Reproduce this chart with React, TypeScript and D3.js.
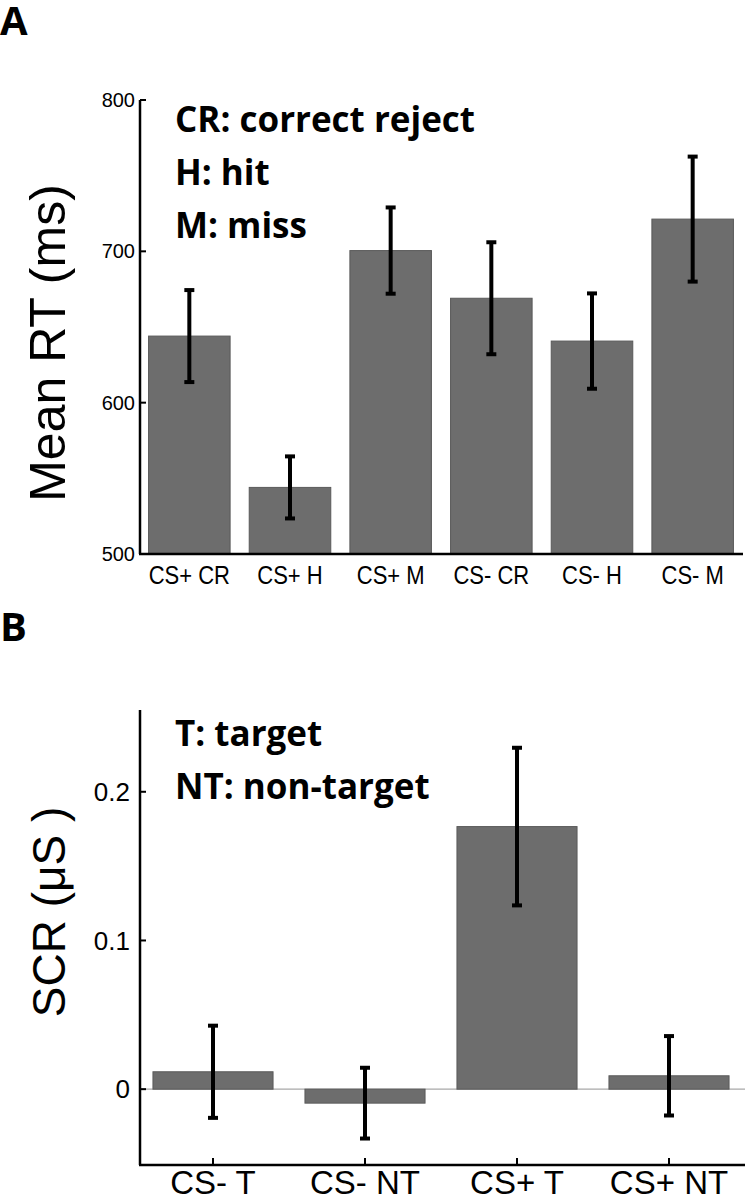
import React from "react";
import * as d3 from "d3";

const catsA = ["CS+ CR", "CS+ H", "CS+ M", "CS- CR", "CS- H", "CS- M"];
const meanA = [644, 544, 700.5, 669, 640.7, 721.3];
const errA = [30.4, 20.5, 28.5, 37, 31.5, 41.3];
const ticksA = [500, 600, 700, 800];
const notesA = ["CR: correct reject", "H: hit", "M: miss"];

const catsB = ["CS- T", "CS- NT", "CS+ T", "CS+ NT"];
const meanB = [0.0117, -0.0094, 0.1766, 0.009];
const errB = [0.031, 0.0238, 0.053, 0.0267];
const ticksB = [0, 0.1, 0.2];
const tickLabelsB = ["0", "0.1", "0.2"];
const notesB = ["T: target", "NT: non-target"];

const BAR = "#6d6d6d";
const SANS = "'Liberation Sans', Arial, sans-serif";
const NOTE = "'Open Sans', sans-serif";

function ErrorBar({ x, y1, y2 }: { x: number; y1: number; y2: number }) {
  return (
    <g stroke="#000">
      <line x1={x} x2={x} y1={y1} y2={y2} strokeWidth={4} />
      <line x1={x - 5} x2={x + 5} y1={y1} y2={y1} strokeWidth={4} />
      <line x1={x - 5} x2={x + 5} y1={y2} y2={y2} strokeWidth={4} />
    </g>
  );
}

export default function App() {
  const xA = d3.scaleBand<string>().domain(catsA).range([139, 743]).paddingInner(0.19).paddingOuter(0.095);
  const yA = d3.scaleLinear().domain([500, 800]).range([554, 100]);
  const xB = d3.scaleBand<string>().domain(catsB).range([137, 745]).paddingInner(0.21).paddingOuter(0.105);
  const yB = d3.scaleLinear().domain([-0.051, 0.255]).range([1165, 710]);
  const axA = 140;
  const axB = 140;

  return (
    <svg width={745} height={1199} style={{ position: "absolute", left: 0, top: 0, background: "#fff" }}>
      <rect width={745} height={1199} fill="#fff" />
      {/* Panel letters */}
      <text x={0} y={35} fontFamily={NOTE} fontWeight="bold" fontSize={40}>A</text>
      <text x={0} y={641} fontFamily={NOTE} fontWeight="bold" fontSize={40}>B</text>

      {/* Panel A */}
      {catsA.map((c, i) => (
        <rect key={c} x={xA(c)} y={yA(meanA[i])} width={xA.bandwidth()} height={yA(500) - yA(meanA[i])}
          fill={BAR} stroke="#5a5a5a" strokeWidth={1} />
      ))}
      {catsA.map((c, i) => (
        <ErrorBar key={c} x={xA(c)! + xA.bandwidth() / 2} y1={yA(meanA[i] + errA[i])} y2={yA(meanA[i] - errA[i])} />
      ))}
      <line x1={axA} x2={axA} y1={yA(800)} y2={yA(500)} stroke="#000" strokeWidth={2.5} />
      <line x1={axA - 1} x2={743} y1={yA(500)} y2={yA(500)} stroke="#000" strokeWidth={2.5} />
      {ticksA.map((t) => (
        <g key={t}>
          <line x1={axA} x2={axA + 6} y1={yA(t)} y2={yA(t)} stroke="#000" strokeWidth={2} />
          <text x={axA - 5} y={yA(t)} dy="0.35em" textAnchor="end" fontFamily={SANS} fontSize={20}>{t}</text>
        </g>
      ))}
      {catsA.map((c) => (
        <text key={c} transform={`translate(${xA(c)! + xA.bandwidth() / 2},584) scale(0.88,1)`} textAnchor="middle"
          fontFamily={SANS} fontSize={25}>{c}</text>
      ))}
      <text transform={`translate(65,343) rotate(-90)`} textAnchor="middle" fontFamily={SANS} fontSize={50}>Mean RT (ms)</text>
      {notesA.map((n, i) => (
        <text key={n} x={175} y={132 + i * 53} fontFamily={NOTE} fontWeight="bold" fontSize={35}>{n}</text>
      ))}

      {/* Panel B */}
      <line x1={axB} x2={745} y1={yB(0)} y2={yB(0)} stroke="#a8a8a8" strokeWidth={1.2} />
      {catsB.map((c, i) => {
        const y0 = yB(0);
        const yv = yB(meanB[i]);
        return (
          <rect key={c} x={xB(c)} y={Math.min(y0, yv)} width={xB.bandwidth()} height={Math.abs(y0 - yv)}
            fill={BAR} stroke="#5a5a5a" strokeWidth={1} />
        );
      })}
      {catsB.map((c, i) => (
        <ErrorBar key={c} x={xB(c)! + xB.bandwidth() / 2} y1={yB(meanB[i] + errB[i])} y2={yB(meanB[i] - errB[i])} />
      ))}
      <line x1={axB} x2={axB} y1={710} y2={yB(-0.051)} stroke="#000" strokeWidth={2.5} />
      <line x1={axB - 1} x2={745} y1={yB(-0.051)} y2={yB(-0.051)} stroke="#000" strokeWidth={2.5} />
      {ticksB.map((t, i) => (
        <g key={t}>
          <line x1={axB} x2={axB + 6} y1={yB(t)} y2={yB(t)} stroke="#000" strokeWidth={2} />
          <text x={axB - 10} y={yB(t)} dy="0.35em" textAnchor="end" fontFamily={SANS} fontSize={26}>{tickLabelsB[i]}</text>
        </g>
      ))}
      {catsB.map((c) => (
        <g key={c}>
          <line x1={xB(c)! + xB.bandwidth() / 2} x2={xB(c)! + xB.bandwidth() / 2} y1={yB(-0.051)} y2={yB(-0.051) - 7}
            stroke="#000" strokeWidth={2} />
          <text x={xB(c)! + xB.bandwidth() / 2} y={1194} textAnchor="middle" fontFamily={SANS} fontSize={33}>{c}</text>
        </g>
      ))}
      <text transform={`translate(65,912) rotate(-90)`} textAnchor="middle" fontFamily={SANS} fontSize={46}>SCR (μS )</text>
      {notesB.map((n, i) => (
        <text key={n} x={175} y={746 + i * 53} fontFamily={NOTE} fontWeight="bold" fontSize={35}>{n}</text>
      ))}
    </svg>
  );
}
